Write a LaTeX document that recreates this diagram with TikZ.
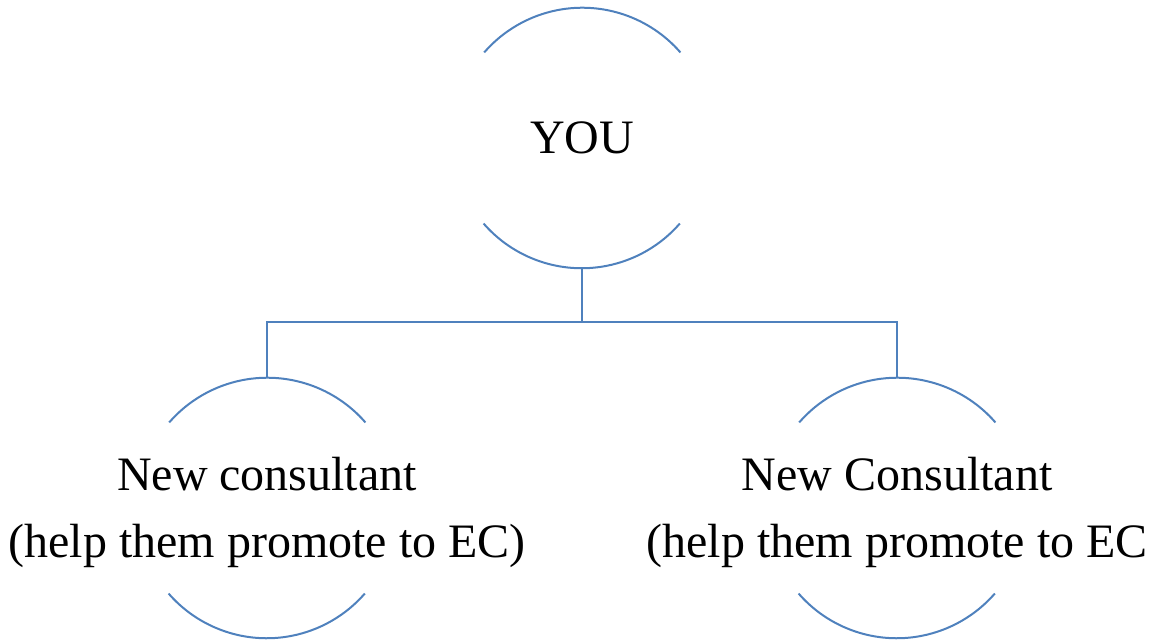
\documentclass[tikz,border=0pt]{standalone}
\usepackage{fontspec}
\setmainfont{Liberation Serif}
\definecolor{rimblue}{RGB}{79,129,189}

\begin{document}
\begin{tikzpicture}[
    bubble/.style={circle, minimum size=130pt, inner sep=0pt},
    caption/.style={align=center, inner sep=0pt, font=\fontsize{24}{33.5}\selectfont},
    rim/.style={draw=rimblue, line width=1pt},
]
    \useasboundingbox (0,0) rectangle (577pt,320pt);

    % Circles
    \node[bubble] (you) at (291pt,251pt) {};
    \node[bubble] (recruitA) at (133.5pt,66pt) {};
    \node[bubble] (recruitB) at (448.5pt,66pt) {};

    % Texts
    \node[caption] (youtext) at (you) {YOU};
    \node[caption, yshift=-2pt] (recruitAtext) at (recruitA) {New consultant\\(help them promote to EC)};
    \node[caption, yshift=-2pt] (recruitBtext) at (recruitB) {New Consultant\\(help them promote to EC};

    % Arcs above and below each text
    \foreach \n in {you,recruitA,recruitB} {
        \draw[rim] (\n.41) arc[start angle=41, end angle=139, radius=65pt];
        \draw[rim] (\n.221) arc[start angle=221, end angle=319, radius=65pt];
    }

    % Connectors
    \coordinate (split) at ([yshift=-27pt]you.south);
    \draw[rim] (you.south) -- (split) -| (recruitA.north);
    \draw[rim] (split) -| (recruitB.north);
\end{tikzpicture}
\end{document}
